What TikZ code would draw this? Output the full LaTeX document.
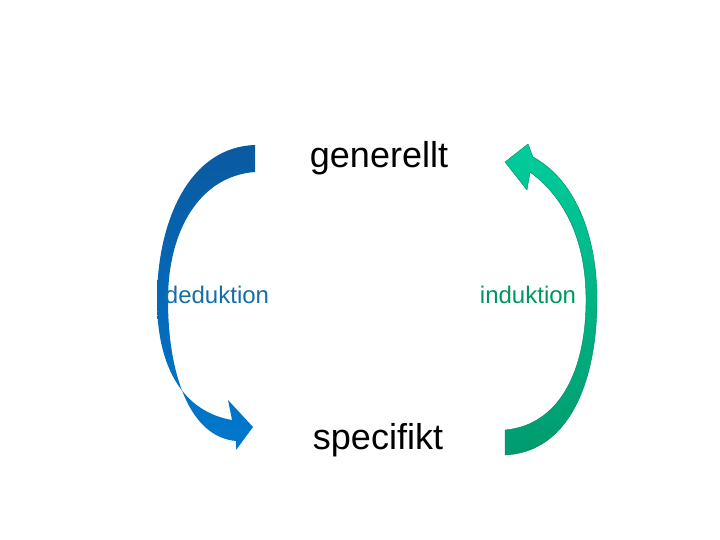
\documentclass[tikz,border=0pt]{standalone}
\usepackage{fontspec}
\setmainfont{Liberation Sans}
\begin{document}
\begin{tikzpicture}[x=1pt,y=-1pt]
\definecolor{bltop}{RGB}{10,90,160}
\definecolor{blbot}{RGB}{0,120,205}
\definecolor{grtop}{RGB}{0,205,155}
\definecolor{grbot}{RGB}{0,155,110}
\definecolor{grline}{RGB}{0,135,95}
\definecolor{lbl}{RGB}{20,110,170}
\definecolor{lblg}{RGB}{0,150,95}
\useasboundingbox (0,0) rectangle (720,540);
\tikzset{big/.style={font=\fontsize{36}{40}\selectfont},
 small/.style={font=\fontsize{24}{28}\selectfont}}
% left arrow
\shade[top color=bltop,bottom color=blbot]
 (255,145) .. controls (190,147) and (157,220) .. (157,300)
 .. controls (157,370) and (185,412) .. (232,420)
 -- (228,400) -- (253,427) -- (236,450) -- (236,441)
 .. controls (190,437) and (168,375) .. (168,300)
 .. controls (168,230) and (200,176) .. (255,172) -- cycle;
% right arrow
\shade[top color=grtop,bottom color=grbot,draw=grline]
 (505,455) .. controls (570,452) and (597,380) .. (597,300)
 .. controls (597,235) and (575,180) .. (533,157)
 -- (528,144) -- (505,162) -- (527,190) -- (530,172)
 .. controls (568,200) and (586,245) .. (586,300)
 .. controls (586,370) and (560,425) .. (505,430) -- cycle;
\node[big] (gen) at (379,158) {generellt};
\node[big] (spec) at (378,440) {specifikt};
\node[small,text=lbl] (ded) at (217,295) {deduktion};
\node[small,text=lblg] (ind) at (528,295) {induktion};
\end{tikzpicture}
\end{document}
